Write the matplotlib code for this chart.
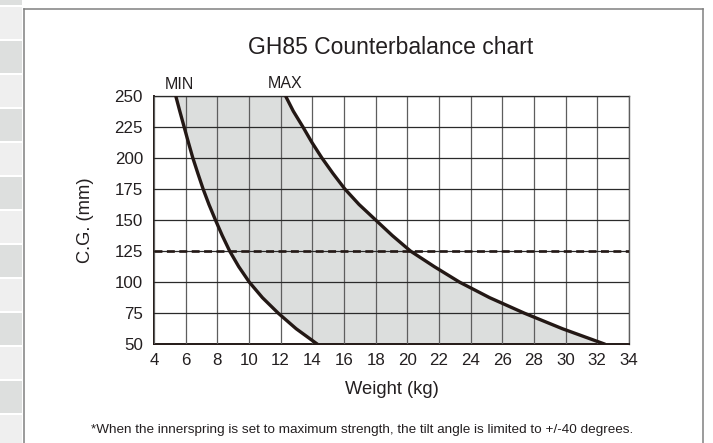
import matplotlib
matplotlib.use('Agg')
import matplotlib.pyplot as plt
from matplotlib.patches import Rectangle
from matplotlib.lines import Line2D

# ---- data ----
cg_mm = [250, 237.5, 225, 212.5, 200, 187.5, 175, 162.5, 150,
         137.5, 125, 112.5, 100, 87.5, 75, 62.5, 50]
min_weight_kg = [5.37, 5.63, 5.90, 6.17, 6.45, 6.77, 7.10, 7.47, 7.88,
                 8.31, 8.78, 9.35, 10.02, 10.85, 11.85, 12.98, 14.33]
max_weight_kg = [12.30, 12.80, 13.40, 13.97, 14.60, 15.30, 16.05, 16.95, 18.00,
                 19.05, 20.20, 21.70, 23.30, 25.20, 27.40, 29.80, 32.50]
x_ticks = list(range(4, 35, 2))
y_ticks = list(range(50, 251, 25))
limit_cg = 125

title = "GH85 Counterbalance chart"
x_label = "Weight (kg)"
y_label = "C.G. (mm)"
footnote = "*When the innerspring is set to maximum strength, the tilt angle is limited to +/-40 degrees."

W, H = 713, 443
plt.rcParams['font.family'] = ['Liberation Sans', 'DejaVu Sans']
TXT = '#231f20'
CURVE = '#231815'

fig = plt.figure(figsize=(W / 100, H / 100), dpi=100)
fig.patch.set_facecolor('white')


def fx(x):
    return x / W


def fy(y):
    return 1 - y / H


# left page strip with alternating boxes
for i in range(-1, 14):
    y0 = 6.7 + 34 * i
    col = '#efefef' if i % 2 == 0 else '#dddfde'
    fig.add_artist(Rectangle((0, fy(y0 + 32.6)), fx(22), 32.6 / H,
                             transform=fig.transFigure, facecolor=col,
                             edgecolor='none', zorder=0))

# panel border
border = dict(transform=fig.transFigure, color='#808080', lw=1.1, zorder=1)
fig.add_artist(Line2D([fx(23.5), fx(23.5)], [0, fy(9)], **border))
fig.add_artist(Line2D([fx(23.5), fx(703)], [fy(9), fy(9)], **border))
fig.add_artist(Line2D([fx(703), fx(703)], [fy(9), 0], **border))

# axes
ax = fig.add_axes([fx(154), fy(344.3), 475 / W, 248.6 / H])
ax.set_xlim(4, 34)
ax.set_ylim(50, 250)
ax.set_facecolor('white')

ax.fill_betweenx(cg_mm, min_weight_kg, max_weight_kg, color='#dcdedd', lw=0, zorder=1)

ax.set_xticks(x_ticks)
ax.set_yticks(y_ticks)
ax.set_axisbelow(False)
ax.xaxis.grid(True, color='#5e5e5e', lw=0.9)
ax.yaxis.grid(True, color='#2a2a2a', lw=0.9)

ax.plot(min_weight_kg, cg_mm, color=CURVE, lw=2.4, zorder=4,
        solid_capstyle='butt', solid_joinstyle='round')
ax.plot(max_weight_kg, cg_mm, color=CURVE, lw=2.4, zorder=4,
        solid_capstyle='butt', solid_joinstyle='round')
ax.axhline(limit_cg, color=CURVE, lw=1.9, dashes=(3.0, 1.7), zorder=4)

for side in ['left', 'bottom']:
    ax.spines[side].set_color(CURVE)
    ax.spines[side].set_linewidth(1.4)
for side in ['top', 'right']:
    ax.spines[side].set_color('#5e5e5e')
    ax.spines[side].set_linewidth(1.0)

ax.tick_params(length=0, labelsize=12.2, colors=TXT)
ax.tick_params(axis='y', pad=8)
ax.tick_params(axis='x', pad=6)

# curve labels
ax.annotate('MIN', xy=(min_weight_kg[0], 250), xytext=(3, 8), textcoords='offset points',
            ha='center', va='center', fontsize=11.5, color=TXT, annotation_clip=False)
ax.annotate('MAX', xy=(max_weight_kg[0], 250), xytext=(0, 8.5), textcoords='offset points',
            ha='center', va='center', fontsize=11.5, color=TXT, annotation_clip=False)

fig.text(fx(391), fy(48), title, ha='center', va='center', fontsize=16.5, color=TXT)
fig.text(fx(391.5), fy(389), x_label, ha='center', va='center', fontsize=13.2, color=TXT)
fig.text(fx(86), fy(220), y_label, ha='center', va='center', rotation=90, fontsize=13.2, color=TXT)
fig.text(fx(362.5), fy(430), footnote, ha='center', va='center', fontsize=9.7, color=TXT)

fig.savefig('out.png', dpi=100)
